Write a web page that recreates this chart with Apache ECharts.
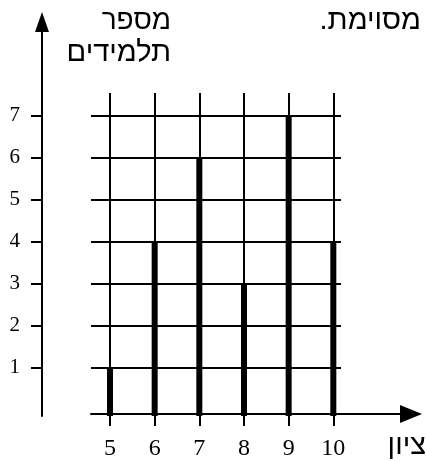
<!DOCTYPE html>
<html>
<head>
<meta charset="utf-8">
<script src="https://cdn.jsdelivr.net/npm/echarts@6/dist/echarts.min.js"></script>
<style>
  html, body { margin: 0; padding: 0; background: #fff; }
  #chart { width: 427px; height: 461px; }
</style>
</head>
<body>
<div id="chart"></div>
<script>
// Grades (x) and number of students who got each grade (y)
const grades = [5, 6, 7, 8, 9, 10];
const students = [1, 4, 6, 3, 7, 4];
const yTickValues = [1, 2, 3, 4, 5, 6, 7];

const yTitleLines = ['מספר', 'תלמידים'];
const topRightText = 'מסוימת.\u200F';
const xTitle = 'ציון';

const INK = '#000';
const hebrewFont = '"Liberation Sans", "DejaVu Sans", sans-serif';
const digitFont = '"Liberation Serif", "DejaVu Serif", serif';

// Shared scales: the plot area, the vertical axis frame and the horizontal axis frame
const Y_MIN = -0.15;
const X_MIN = 4.5746;

const chart = echarts.init(document.getElementById('chart'), null, { renderer: 'canvas' });

const hidden = { show: false };

chart.setOption({
  animation: false,
  backgroundColor: '#fff',
  grid: [
    // plot area with the grid lines and bars
    { left: 91, top: 93, width: 250, height: 323 },
    // vertical axis with arrow
    { left: 42, top: 22, width: 10, height: 394 },
    // horizontal axis with arrow
    { left: 91, top: 300, width: 320, height: 116 }
  ],
  xAxis: [
    {
      gridIndex: 0, type: 'value', min: X_MIN, max: 10.172,
      axisLine: hidden, axisLabel: hidden,
      axisTick: { show: false, customValues: grades },
      splitLine: { show: true, lineStyle: { color: INK, width: 2 } }
    },
    {
      gridIndex: 1, type: 'value', min: 0, max: 1, show: false
    },
    {
      gridIndex: 2, type: 'value', min: X_MIN, max: 11.74, position: 'bottom',
      axisLine: {
        show: true, onZero: false,
        lineStyle: { color: INK, width: 2 },
        symbol: ['none', 'triangle'], symbolSize: [18, 22]
      },
      axisTick: { show: true, inside: false, length: 12, customValues: grades,
        lineStyle: { color: INK, width: 2 } },
      axisLabel: { show: true, customValues: grades, margin: 23, color: INK,
        fontFamily: digitFont, fontSize: 24 },
      splitLine: hidden
    }
  ],
  yAxis: [
    {
      gridIndex: 0, type: 'value', min: Y_MIN, max: 7.54, startValue: Y_MIN,
      axisLine: hidden, axisLabel: hidden,
      axisTick: { show: false, customValues: yTickValues },
      splitLine: { show: true, lineStyle: { color: INK, width: 2 } }
    },
    {
      gridIndex: 1, type: 'value', min: Y_MIN, max: 9.231, position: 'left',
      axisLine: {
        show: true, onZero: false,
        lineStyle: { color: INK, width: 2 },
        symbol: ['none', 'triangle'], symbolSize: [14, 20]
      },
      axisTick: { show: true, inside: false, length: 11, customValues: yTickValues,
        lineStyle: { color: INK, width: 2 } },
      axisLabel: { show: true, customValues: yTickValues, margin: 22, color: INK,
        fontFamily: digitFont, fontSize: 21 },
      splitLine: hidden
    },
    {
      gridIndex: 2, type: 'value', min: 0, max: 1, show: false
    }
  ],
  series: [
    {
      type: 'bar',
      xAxisIndex: 0,
      yAxisIndex: 0,
      barWidth: 6,
      itemStyle: { color: INK },
      data: grades.map((g, i) => [g, students[i]])
    }
  ],
  graphic: [
    { type: 'text', x: 171, y: 21,
      style: { text: yTitleLines[0], textAlign: 'right', textVerticalAlign: 'middle',
        font: '28px ' + hebrewFont, fill: INK } },
    { type: 'text', x: 171, y: 53,
      style: { text: yTitleLines[1], textAlign: 'right', textVerticalAlign: 'middle',
        font: '29px ' + hebrewFont, fill: INK } },
    { type: 'text', x: 421, y: 21,
      style: { text: topRightText, textAlign: 'right', textVerticalAlign: 'middle',
        font: '29px ' + hebrewFont, fill: INK } },
    { type: 'text', x: 426, y: 446,
      style: { text: xTitle, textAlign: 'right', textVerticalAlign: 'middle',
        font: '29px ' + hebrewFont, fill: INK } }
  ]
});
</script>
</body>
</html>
